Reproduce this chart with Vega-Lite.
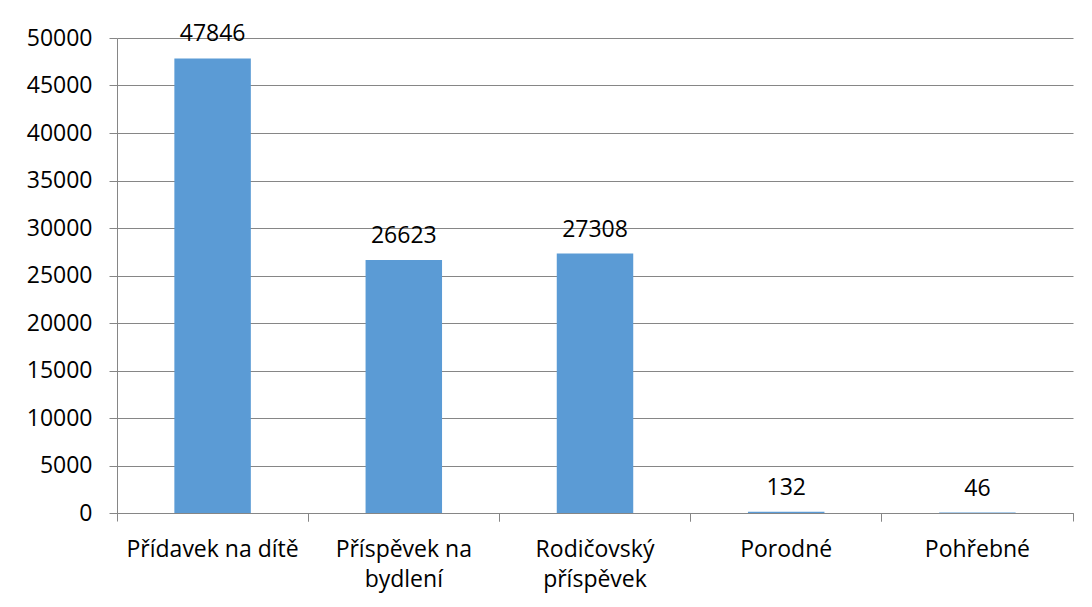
{
  "$schema": "https://vega.github.io/schema/vega-lite/v6.json",
  "autosize": {"type": "none"},
  "width": 956,
  "height": 475,
  "padding": {"left": 117, "top": 38, "right": 19, "bottom": 94},
  "background": "white",
  "config": {
    "view": {"stroke": null},
    "font": "Open Sans",
    "axis": {
      "labelFont": "Open Sans",
      "labelFontSize": 23,
      "labelColor": "#000000",
      "domainColor": "#868686",
      "tickColor": "#868686",
      "gridColor": "#868686",
      "title": null
    }
  },
  "data": {
    "values": [
      {"kategorie": "Přídavek na dítě", "pocet": 47846},
      {"kategorie": "Příspěvek na bydlení", "pocet": 26623},
      {"kategorie": "Rodičovský příspěvek", "pocet": 27308},
      {"kategorie": "Porodné", "pocet": 132},
      {"kategorie": "Pohřebné", "pocet": 46}
    ]
  },
  "encoding": {
    "x": {
      "field": "kategorie",
      "type": "nominal",
      "sort": null,
      "scale": {"paddingInner": 0.6, "paddingOuter": 0.3}
    },
    "y": {
      "field": "pocet",
      "type": "quantitative",
      "scale": {"domain": [0, 50000], "nice": false},
      "axis": {
        "values": [0, 5000, 10000, 15000, 20000, 25000, 30000, 35000, 40000, 45000, 50000],
        "grid": true,
        "tickSize": 8,
        "labelPadding": 17,
        "domain": true,
        "format": "d"
      }
    }
  },
  "layer": [
    {
      "mark": {"type": "bar", "color": "#5B9BD5"},
      "encoding": {
        "x": {
          "field": "kategorie",
          "type": "nominal",
          "sort": null,
          "axis": {
            "orient": "bottom",
            "labelAngle": 0,
            "bandPosition": 1.75,
            "tickSize": 8,
            "labelPadding": 17,
            "labelLineHeight": 30,
            "labelBaseline": "top",
            "labelExpr": "datum.value == 'Příspěvek na bydlení' ? ['Příspěvek na', 'bydlení'] : datum.value == 'Rodičovský příspěvek' ? ['Rodičovský', 'příspěvek'] : datum.value"
          }
        }
      }
    },
    {
      "mark": {"type": "text", "baseline": "alphabetic", "dy": -17, "fontSize": 23, "font": "Open Sans", "color": "#000000"},
      "encoding": {
        "x": {
          "field": "kategorie",
          "type": "nominal",
          "sort": null,
          "axis": {
            "orient": "bottom",
            "bandPosition": -0.75,
            "tickSize": 8,
            "labels": false,
            "domain": true
          }
        },
        "text": {"field": "pocet", "type": "quantitative", "format": "d"}
      }
    }
  ],
  "resolve": {"axis": {"x": "independent"}}
}
